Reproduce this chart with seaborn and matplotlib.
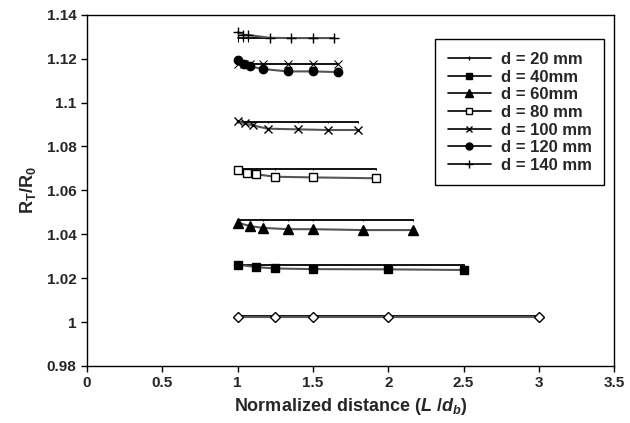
import matplotlib
matplotlib.use("Agg")
import matplotlib.pyplot as plt
import seaborn as sns
from matplotlib.lines import Line2D

# --- data ---
labels = ["d = 20 mm", "d = 40mm", "d = 60mm", "d = 80 mm", "d = 100 mm", "d = 120 mm", "d = 140 mm"]

x_20 = [1.0, 1.25, 1.5, 2.0, 3.0]
y_20 = [1.0025, 1.0025, 1.0025, 1.0025, 1.0025]
flat_20 = [1.0026, 1.0026, 1.0026, 1.0026, 1.0026]

x_40 = [1.0, 1.125, 1.25, 1.5, 2.0, 2.5]
y_40 = [1.0262, 1.0250, 1.0244, 1.0241, 1.0240, 1.0237]
flat_40 = [1.0258, 1.0258, 1.0258, 1.0258, 1.0258, 1.0258]

x_60 = [1.0, 1.083, 1.167, 1.333, 1.5, 1.833, 2.167]
y_60 = [1.0453, 1.0437, 1.0429, 1.0423, 1.0423, 1.0419, 1.0419]
flat_60 = [1.0464] * 7

x_80 = [1.0, 1.0625, 1.125, 1.25, 1.5, 1.92]
y_80 = [1.0691, 1.0679, 1.0673, 1.0662, 1.0659, 1.0655]
flat_80 = [1.0699] * 6

x_100 = [1.0, 1.05, 1.1, 1.2, 1.4, 1.6, 1.8]
y_100 = [1.0915, 1.0905, 1.0896, 1.0881, 1.0878, 1.0875, 1.0875]
flat_100 = [1.0913] * 7

x_120 = [1.0, 1.042, 1.083, 1.167, 1.333, 1.5, 1.667]
y_120 = [1.1192, 1.1177, 1.1165, 1.1153, 1.1142, 1.1142, 1.1139]
flat_120 = [1.1176] * 7

x_140 = [1.0, 1.036, 1.071, 1.214, 1.357, 1.5, 1.643]
y_140 = [1.1320, 1.1310, 1.1308, 1.1295, 1.1294, 1.1294, 1.1294]
flat_140 = [1.1294] * 7

series = [
    (x_20, y_20, flat_20, "D", "white", 5),
    (x_40, y_40, flat_40, "s", "black", 6),
    (x_60, y_60, flat_60, "^", "black", 7),
    (x_80, y_80, flat_80, "s", "white", 6),
    (x_100, y_100, flat_100, "x", "black", 6),
    (x_120, y_120, flat_120, "o", "black", 6),
    (x_140, y_140, flat_140, "+", "black", 7),
]

sns.set_style("ticks")
plt.rcParams["font.family"] = ["Liberation Sans", "DejaVu Sans"]
plt.rcParams["font.weight"] = "bold"
plt.rcParams["mathtext.fontset"] = "custom"
plt.rcParams["mathtext.rm"] = "Liberation Sans:bold"
plt.rcParams["mathtext.bf"] = "Liberation Sans:bold"
plt.rcParams["mathtext.it"] = "Liberation Sans:italic:bold"

fig = plt.figure(figsize=(6.3, 4.23), dpi=100)
ax = fig.add_axes([0.138, 0.135, 0.837, 0.83])

for i, (xs, ys, flat, mk, fc, ms) in enumerate(series):
    # flat reference line
    if i == 5:
        flat_mk, flat_ms = "x", 6
    elif i == 6:
        flat_mk, flat_ms = "|", 6
    else:
        flat_mk, flat_ms = "|", 2
    sns.lineplot(x=xs, y=flat, ax=ax, color="black", linewidth=1.3, marker=flat_mk,
                 markersize=flat_ms, markeredgecolor="black", estimator=None, sort=False)
    # measured series
    sns.lineplot(x=xs, y=ys, ax=ax, color="#555555", linewidth=1.5, marker=mk,
                 markersize=ms, markerfacecolor=fc, markeredgecolor="black",
                 markeredgewidth=1.0, estimator=None, sort=False)

ax.set_xlim(0, 3.5)
ax.set_ylim(0.98, 1.14)
ax.set_xticks([0, 0.5, 1, 1.5, 2, 2.5, 3, 3.5])
ax.set_xticklabels(["0", "0.5", "1", "1.5", "2", "2.5", "3", "3.5"])
ax.set_yticks([0.98, 1.0, 1.02, 1.04, 1.06, 1.08, 1.1, 1.12, 1.14])
ax.set_yticklabels(["0.98", "1", "1.02", "1.04", "1.06", "1.08", "1.1", "1.12", "1.14"])
ax.tick_params(axis="both", labelsize=11, direction="out", length=4, width=1, color="black")
for s in ax.spines.values():
    s.set_color("black")
    s.set_linewidth(1.0)

ax.set_xlabel(r"Normalized distance ($\mathit{L}$ /$\mathit{d}_{\mathit{b}}$)", fontsize=13, fontweight="bold")
ax.set_ylabel(r"R$_{\mathbf{T}}$/R$_{\mathbf{0}}$", fontsize=13, fontweight="bold", labelpad=6)

handles = [Line2D([0], [0], color="black", linewidth=1.2, marker="|", markersize=3)]
for xs, ys, flat, mk, fc, ms in series[1:]:
    handles.append(Line2D([0], [0], color="black", linewidth=1.2, marker=mk, markersize=ms - 1,
                          markerfacecolor=fc, markeredgecolor="black"))
leg = ax.legend(handles, labels, loc="upper right", bbox_to_anchor=(0.981, 0.93),
                fontsize=12, frameon=True, fancybox=False, framealpha=1,
                edgecolor="black", borderaxespad=0, handlelength=2.6,
                handletextpad=0.6, labelspacing=0.16, borderpad=0.4)
leg.get_frame().set_linewidth(1.0)
# pad the frame a bit on the sides, as in the reference
leg._legend_box.pad = 9

fig.savefig("out.png", dpi=100)
